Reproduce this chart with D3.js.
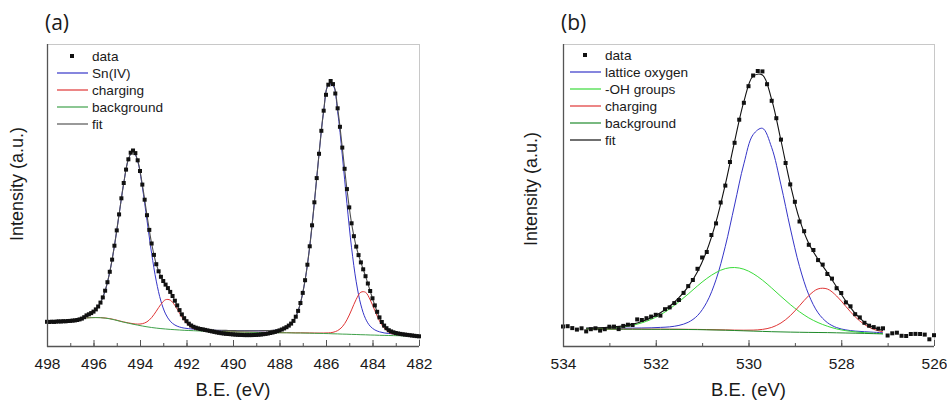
<!DOCTYPE html>
<html><head><meta charset="utf-8">
<script src="https://cdn.jsdelivr.net/npm/d3@7"></script>
<style>
body{margin:0;background:#fff}
svg{display:block}
svg text{font-family:Arial,"Liberation Sans",sans-serif;fill:#1a1a1a}
</style></head>
<body><svg id="chart" width="947" height="401"></svg>
<script>
// ---------- Panel (a): Sn 3d ----------
const dataA_start = 498.0, dataA_step = 0.1;
const dataA = [24.2,24.0,24.3,24.1,24.4,24.6,24.5,24.8,24.7,25.0,
25.1,25.4,25.6,26.0,26.6,27.4,28.8,30.6,31.7,32.9,
34.4,36.6,39.5,43.4,48.6,55.3,63.8,74.2,86.4,100.3,
115.6,131.6,147.7,163.0,176.4,186.7,193.3,195.5,192.9,185.7,
175.0,161.4,146.3,130.8,116.1,102.5,91.1,81.8,74.7,69.2,
65.0,61.4,57.9,54.1,50.0,45.3,40.6,35.9,31.6,27.8,
24.8,22.3,20.5,19.2,18.3,17.6,17.0,16.6,16.1,15.6,
15.1,14.6,14.1,13.6,13.2,12.8,12.5,12.2,12.0,11.8,
11.6,11.4,11.2,11.1,11.0,10.9,10.9,10.9,10.9,11.0,
11.1,11.3,11.5,11.8,12.1,12.5,13.0,13.5,14.1,14.8,
15.6,16.5,17.6,18.8,20.4,22.4,25.1,29.3,35.1,43.0,
53.1,65.8,81.3,99.7,120.7,143.7,167.9,192.2,215.2,235.3,
251.2,261.3,265.0,261.9,252.5,237.7,219.2,198.4,177.2,156.9,
138.6,122.7,109.8,99.4,90.9,83.6,76.7,69.8,62.5,55.0,
47.7,40.6,34.2,28.6,24.0,20.4,17.8,15.8,14.6,13.7,
13.0,12.5,12.1,11.7,11.4,11.1,10.8,10.5,10.2,9.9,9.7];

const fitA_start = 496.3, fitA_step = 0.2;
const bgA = [28.0,28.3,28.4,28.3,27.9,27.2,26.2,25.0,23.8,22.8,
21.8,20.9,20.0,19.2,18.5,17.9,17.4,17.0,16.6,16.3,
16.0,15.7,15.5,15.3,15.1,14.9,14.7,14.6,14.4,14.3,
14.2,14.1,14.0,13.9,13.8,13.7,13.6,13.5,13.5,13.4,
13.3,13.3,13.2,13.2,13.1,13.0,13.0,12.9,12.8,12.7,
12.6,12.5,12.4,12.2,12.1,11.9,11.8,11.6,11.5,11.3,
11.2,11.0,10.9,10.7,10.6,10.5,10.4,10.3,10.2,10.1];
const snA = [2.8,4.5,8.1,15.0,27.3,46.8,73.9,106.4,138.9,163.6,
173.2,163.8,139.1,106.6,74.1,47.0,27.5,15.1,8.2,4.7,
3.0,2.2,1.8,1.6,1.5,1.4,1.3,1.2,1.2,1.2,
1.2,1.2,1.2,1.2,1.3,1.4,1.5,1.6,1.7,2.0,
2.2,2.6,3.5,5.2,8.8,16.1,29.8,52.7,86.6,130.7,
179.2,222.3,248.2,248.2,222.3,179.2,130.7,86.6,52.7,29.8,
16.1,8.8,5.2,3.5,2.5,2.0,1.8,1.6,1.5,1.4];
const chgA = [0.1,0.1,0.1,0.1,0.1,0.15,0.2,0.2,0.25,0.3,
0.5,1.0,2.3,5.0,9.9,16.9,24.3,29.3,29.3,24.3,
16.9,9.9,5.0,2.3,1.0,0.5,0.3,0.25,0.2,0.2,
0.2,0.15,0.15,0.15,0.13,0.13,0.13,0.13,0.13,0.13,
0.13,0.14,0.14,0.15,0.17,0.18,0.2,0.23,0.27,0.3,
0.35,0.5,0.7,1.5,3.3,7.3,14.4,24.5,35.2,42.5,
42.5,35.2,24.5,14.4,7.3,3.3,1.5,0.7,0.5,0.35];
const ticksA = [498,496,494,492,490,488,486,484,482];
const legendA = ["data","Sn(IV)","charging","background","fit"];

// ---------- Panel (b): O 1s ----------
const dataB_start = 534.0, dataB_step = 0.1;
const dataB = [19.5,19.8,17.9,16.4,17.7,14.6,16.8,17.7,15.4,16.8,
19.3,19.4,16.9,20.1,21.3,21.0,26.6,26.0,27.8,29.4,
31.2,30.4,36.8,38.6,42.9,46.0,53.1,59.9,66.0,77.2,
88.5,94.0,111.0,122.6,143.5,160.4,184.0,203.2,226.3,243.2,
259.8,270.5,275.0,274.6,261.8,245.2,227.8,206.4,183.0,161.6,
144.2,124.5,114.8,101.2,96.0,85.9,81.4,72.0,67.4,57.8,
53.0,43.6,39.7,31.8,28.6,23.2,20.3,18.9,17.4,17.7,
10.5,12.7,13.3,10.2,10.0,12.0,12.1,12.0,11.4,6.7,10.8];

const fitB_start = 533.5, fitB_step = 0.2;
const bgB = [17.0,16.95,16.9,16.85,16.8,16.8,16.75,16.7,16.7,16.65,
16.6,16.5,16.4,16.2,16.0,15.8,15.5,15.2,14.9,14.6,
14.3,14.1,13.9,13.75,13.6,13.5,13.4,13.2,13.0,12.8,
12.6,12.35,12.1];
const latB = [0.6,0.7,0.76,0.86,0.97,1.1,1.28,1.49,1.9,2.5,
4.0,7.2,14.0,27.5,50.3,83.9,125.5,167.0,196.5,203.1,
184.1,147.0,104.1,65.8,37.6,19.7,10.0,5.2,3.1,2.1,
1.7,1.4,1.2];
const ohB = [0.2,0.4,0.7,1.3,2.3,3.9,6.4,9.9,14.5,20.5,
27.6,35.5,43.7,51.3,57.5,61.6,63.0,61.6,57.5,51.3,
43.7,35.5,27.6,20.5,14.5,9.9,6.4,3.9,2.3,1.3,
0.7,0.4,0.2];
const chgB = [0.06,0.06,0.07,0.08,0.08,0.09,0.1,0.11,0.12,0.13,
0.15,0.17,0.19,0.23,0.27,0.3,0.4,0.6,1.0,2.0,
4.3,8.9,16.4,26.5,36.8,43.6,43.6,36.8,26.5,16.4,
8.9,4.3,2.0];
const ticksB = [534,532,530,528,526];
const legendB = ["data","lattice oxygen","-OH groups","charging","background","fit"];

// ---------- drawing ----------
const svg = d3.select("#chart");
const TOP = 44, BOTTOM = 346;
const FONT = 'Arial,"Liberation Sans",sans-serif';

function energies(start, step, n){ return d3.range(n).map(i => +(start - i*step).toFixed(2)); }

function panel(o){
  const g = svg.append("g");
  const x = d3.scaleLinear().domain(o.domain).range([o.left, o.right]);
  const y = d3.scaleLinear().domain([0, 302]).range([BOTTOM, TOP]);
  const eData = energies(o.dataStart, o.dataStep, o.data.length);
  const eFit = energies(o.fitStart, o.fitStep, o.bg.length);
  const line = d3.line().x(d => x(d[0])).y(d => y(d[1])).curve(d3.curveCatmullRom.alpha(0.5));

  // frame
  g.append("line").attr("x1", o.left).attr("x2", o.right).attr("y1", TOP+0.5).attr("y2", TOP+0.5)
    .attr("stroke", "#c8c8c8").attr("stroke-width", 1);
  g.append("line").attr("x1", o.right+0.5).attr("x2", o.right+0.5).attr("y1", TOP).attr("y2", BOTTOM)
    .attr("stroke", "#c8c8c8").attr("stroke-width", 1);

  // components (drawn as background + component)
  o.comps.forEach(c => {
    const pts = eFit.map((e,i) => [e, o.bg[i] + c.vals[i]]);
    g.append("path").attr("d", line(pts)).attr("fill","none").attr("stroke", c.color).attr("stroke-width", 1);
  });
  // fit
  const fitPts = eFit.map((e,i) => [e, o.bg[i] + o.comps.reduce((s,c) => s + c.vals[i], 0)]);
  g.append("path").attr("d", line(fitPts)).attr("fill","none").attr("stroke", o.fitColor).attr("stroke-width", 1.1);
  // background on top
  g.append("path").attr("d", line(eFit.map((e,i)=>[e,o.bg[i]]))).attr("fill","none")
    .attr("stroke", o.bgColor).attr("stroke-width", 1);

  // data squares
  g.selectAll("rect.pt").data(o.data).join("rect").attr("class","pt")
    .attr("x", (d,i) => x(eData[i]) - 2).attr("y", d => y(d) - 2)
    .attr("width", 4).attr("height", 4).attr("fill", "#111");

  // axes
  const minor = d3.range(o.domain[0], o.domain[1] - 0.5, -1);
  g.append("g").attr("transform", `translate(0,${BOTTOM})`)
    .call(d3.axisBottom(x).tickValues(minor).tickSize(-3).tickFormat(""))
    .call(a => a.select(".domain").remove())
    .call(a => a.selectAll("line").attr("stroke", "#555"));
  const ax = g.append("g").attr("transform", `translate(0,${BOTTOM})`)
    .call(d3.axisBottom(x).tickValues(o.ticks).tickSize(-6).tickPadding(12).tickFormat(d3.format("d")));
  ax.attr("font-family", FONT);
  ax.select(".domain").attr("stroke", "#555").attr("stroke-width", 1.3).attr("d", `M${o.left},0.5H${o.right}`);
  ax.selectAll("line").attr("stroke", "#555");
  ax.selectAll("text").attr("font-size", 15.5).style("font-family", FONT).attr("fill", "#1a1a1a");
  g.append("line").attr("x1", o.left+0.5).attr("x2", o.left+0.5).attr("y1", TOP).attr("y2", BOTTOM+1)
    .attr("stroke", "#555").attr("stroke-width", 1.3);

  // axis titles
  g.append("text").attr("x", (o.left + o.right)/2).attr("y", 396).attr("text-anchor","middle")
    .attr("font-size", 18.5).style("font-family", FONT).text("B.E. (eV)");
  g.append("text").attr("transform", `translate(${o.ylabX},${o.ylabY}) rotate(-90)`)
    .attr("text-anchor","middle").attr("font-size", 18).style("font-family", FONT).text("Intensity (a.u.)");
  g.append("text").attr("x", o.left - 2).attr("y", 30).attr("font-size", 21)
    .style("font-family", '"Open Sans","Noto Sans",sans-serif').text(o.tag);

  // legend
  const lg = g.append("g");
  o.legend.forEach((name, i) => {
    const yy = o.legY + i * o.legDy;
    if (i === 0) {
      lg.append("rect").attr("x", o.legMark - 2).attr("y", yy - 2).attr("width", 4).attr("height", 4).attr("fill", "#111");
    } else {
      lg.append("line").attr("x1", o.legX0).attr("x2", o.legX1).attr("y1", yy).attr("y2", yy)
        .attr("stroke", o.legColors[i]).attr("stroke-width", 1.2);
    }
    lg.append("text").attr("x", o.legText).attr("y", yy + 5).attr("font-size", 13.6)
      .style("font-family", FONT).text(name);
  });
}

const BLUE = "#3535c8", RED = "#e03535", LGREEN = "#39db39", DGREEN = "#2f9a38";

panel({
  tag: "(a)", domain: [498, 482], left: 47, right: 419, ticks: ticksA, ylabX: 23, ylabY: 184,
  data: dataA, dataStart: dataA_start, dataStep: dataA_step,
  fitStart: fitA_start, fitStep: fitA_step, bg: bgA,
  comps: [{vals: snA, color: BLUE}, {vals: chgA, color: RED}],
  fitColor: "#505050", bgColor: "#3fa14a",
  legend: legendA, legColors: [null, BLUE, RED, "#3fa14a", "#555"],
  legY: 56, legDy: 17, legX0: 57, legX1: 88, legMark: 72, legText: 92
});

panel({
  tag: "(b)", domain: [534, 526], left: 563, right: 934, ticks: ticksB, ylabX: 537, ylabY: 189,
  data: dataB, dataStart: dataB_start, dataStep: dataB_step,
  fitStart: fitB_start, fitStep: fitB_step, bg: bgB,
  comps: [{vals: latB, color: BLUE}, {vals: ohB, color: LGREEN}, {vals: chgB, color: RED}],
  fitColor: "#111", bgColor: "#1f8a2a",
  legend: legendB, legColors: [null, BLUE, LGREEN, RED, "#1f8a2a", "#111"],
  legY: 55, legDy: 17, legX0: 570, legX1: 601, legMark: 585, legText: 605
});
</script>
</body></html>
